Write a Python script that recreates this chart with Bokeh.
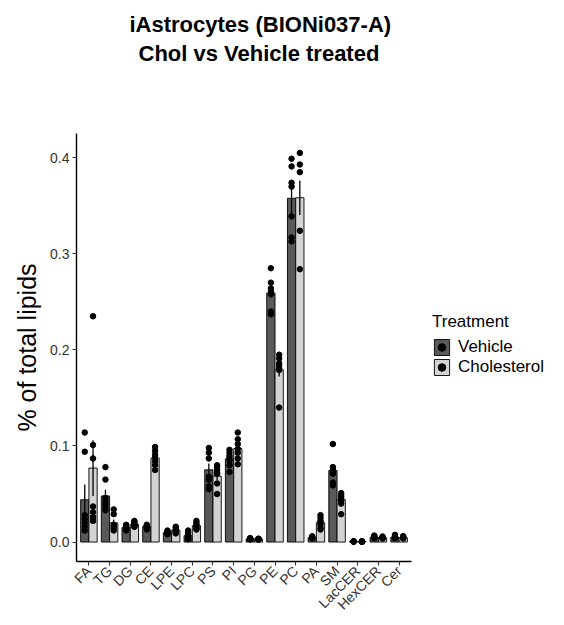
from bokeh.plotting import figure
from bokeh.models import (ColumnDataSource, Range1d, FixedTicker, Legend, LegendItem,
                          Title, NumeralTickFormatter)
from bokeh.embed import file_html
from bokeh.resources import INLINE
import math

# ---------------- data ----------------
lipids = ["FA", "TG", "DG", "CE", "LPE", "LPC", "PS", "PI", "PG", "PE", "PC",
          "PA", "SM", "LacCER", "HexCER", "Cer"]
treatments = ["Vehicle", "Cholesterol"]

vehicle_mean = [0.044, 0.048, 0.015, 0.016, 0.0098, 0.0066, 0.0752, 0.0866, 0.0033,
                0.2592, 0.3578, 0.0046, 0.0745, 0.0006, 0.0050, 0.0050]
vehicle_se = [0.016, 0.0065, 0.001, 0.0008, 0.0005, 0.0013, 0.0065, 0.003, 0.0002,
              0.0045, 0.016, 0.0004, 0.005, 0.0001, 0.0004, 0.0004]
chol_mean = [0.077, 0.020, 0.0184, 0.0874, 0.0124, 0.017, 0.0686, 0.0972, 0.0030,
             0.1794, 0.3584, 0.0202, 0.0441, 0.0006, 0.0045, 0.0045]
chol_se = [0.029, 0.0035, 0.001, 0.003, 0.001, 0.0014, 0.004, 0.0045, 0.0002,
           0.007, 0.018, 0.0023, 0.0026, 0.0001, 0.0003, 0.0004]

vehicle_points = [
    [0.114, 0.094, 0.028, 0.024, 0.020, 0.016, 0.012],
    [0.078, 0.065, 0.046, 0.042, 0.039, 0.036, 0.033],
    [0.018, 0.017, 0.016, 0.015, 0.014, 0.013, 0.012],
    [0.018, 0.017, 0.017, 0.016, 0.016, 0.015, 0.013],
    [0.012, 0.011, 0.010, 0.010, 0.009, 0.009, 0.008],
    [0.012, 0.010, 0.008, 0.006, 0.004, 0.003, 0.003],
    [0.098, 0.093, 0.087, 0.068, 0.065, 0.058, 0.055],
    [0.096, 0.093, 0.090, 0.088, 0.085, 0.080, 0.073],
    [0.004, 0.004, 0.003, 0.003, 0.003, 0.003, 0.003],
    [0.285, 0.270, 0.264, 0.261, 0.258, 0.240, 0.237],
    [0.399, 0.391, 0.374, 0.370, 0.339, 0.317, 0.313],
    [0.006, 0.005, 0.005, 0.004, 0.004, 0.004, 0.004],
    [0.102, 0.078, 0.075, 0.073, 0.071, 0.062, 0.059],
    [0.0007, 0.0006, 0.0006, 0.0006, 0.0005, 0.0005, 0.0005],
    [0.0068, 0.0060, 0.0052, 0.0050, 0.0045, 0.0042, 0.0040],
    [0.0075, 0.0060, 0.0050, 0.0048, 0.0045, 0.0042, 0.0040],
]
chol_points = [
    [0.235, 0.101, 0.087, 0.037, 0.031, 0.026, 0.022],
    [0.034, 0.029, 0.018, 0.017, 0.016, 0.014, 0.012],
    [0.022, 0.021, 0.019, 0.018, 0.017, 0.016, 0.016],
    [0.099, 0.095, 0.091, 0.088, 0.084, 0.080, 0.075],
    [0.016, 0.015, 0.013, 0.012, 0.011, 0.010, 0.009],
    [0.022, 0.020, 0.018, 0.017, 0.015, 0.014, 0.013],
    [0.080, 0.078, 0.075, 0.072, 0.071, 0.061, 0.050],
    [0.114, 0.107, 0.102, 0.097, 0.093, 0.087, 0.081],
    [0.0035, 0.0032, 0.0030, 0.0030, 0.0028, 0.0028, 0.0027],
    [0.195, 0.191, 0.186, 0.184, 0.181, 0.179, 0.140],
    [0.405, 0.393, 0.385, 0.324, 0.284],
    [0.028, 0.025, 0.022, 0.020, 0.018, 0.015, 0.013],
    [0.051, 0.049, 0.047, 0.045, 0.043, 0.040, 0.029],
    [0.0006, 0.0006, 0.0005, 0.0005, 0.0005, 0.0005, 0.0005],
    [0.0058, 0.0050, 0.0046, 0.0044, 0.0042, 0.0040, 0.0038],
    [0.0062, 0.0050, 0.0046, 0.0044, 0.0042, 0.0040, 0.0038],
]

y_ticks = [0.0, 0.1, 0.2, 0.3, 0.4]
title_line1 = "iAstrocytes (BIONi037-A)"
title_line2 = "Chol vs Vehicle treated"
y_label = "% of total lipids"
legend_title = "Treatment"

# ---------------- style ----------------
FONT = "Liberation Sans"
VEH_COLOR = "#595959"
CHOL_COLOR = "#D3D3D3"
DODGE = 0.2
BAR_W = 0.4

pos = [float(i + 1) for i in range(len(lipids))]

def make_sources(means, ses, pts, offset):
    xs = [p_ + offset for p_ in pos]
    lo = [m - s for m, s in zip(means, ses)]
    hi = [m + s for m, s in zip(means, ses)]
    bar = ColumnDataSource(dict(x=xs, top=list(means), lo=lo, hi=hi))
    px, py = [], []
    for i, plist in enumerate(pts):
        for v in plist:
            px.append(xs[i])
            py.append(v)
    point = ColumnDataSource(dict(x=px, y=py))
    return bar, point

veh_bar, veh_pts = make_sources(vehicle_mean, vehicle_se, vehicle_points, -DODGE)
chol_bar, chol_pts = make_sources(chol_mean, chol_se, chol_points, DODGE)

all_vals = [v for g in vehicle_points + chol_points for v in g]
all_vals += [m + s for m, s in zip(vehicle_mean, vehicle_se)]
all_vals += [m + s for m, s in zip(chol_mean, chol_se)]
ymax = max(all_vals)
pad = 0.05 * ymax

p = figure(frame_width=335, frame_height=428,
           x_range=Range1d(0.4, len(lipids) + 0.6),
           y_range=Range1d(-pad, ymax + pad),
           output_backend="svg", toolbar_location=None,
           min_border_left=76, min_border_right=153,
           min_border_top=133, min_border_bottom=64)
p.xgrid.visible = False
p.ygrid.visible = False
p.outline_line_color = None
p.background_fill_color = "white"
p.border_fill_color = "white"

r_vb = p.vbar(x="x", top="top", bottom=0, width=BAR_W, source=veh_bar,
              fill_color=VEH_COLOR, line_color="black", line_width=0.9)
r_cb = p.vbar(x="x", top="top", bottom=0, width=BAR_W, source=chol_bar,
              fill_color=CHOL_COLOR, line_color="black", line_width=0.9)
p.segment(x0="x", y0="lo", x1="x", y1="hi", source=veh_bar,
          line_color="black", line_width=1.3)
p.segment(x0="x", y0="lo", x1="x", y1="hi", source=chol_bar,
          line_color="black", line_width=1.3)
r_vp = p.scatter(x="x", y="y", source=veh_pts, size=5.5, marker="circle",
                 fill_color="black", line_color="black")
r_cp = p.scatter(x="x", y="y", source=chol_pts, size=5.5, marker="circle",
                 fill_color="black", line_color="black")

# axes
for ax in (p.xaxis[0], p.yaxis[0]):
    ax.axis_line_color = "black"
    ax.axis_line_width = 1.4
    ax.major_tick_line_color = "#333333"
    ax.major_tick_line_width = 1.1
    ax.major_tick_in = 0
    ax.major_tick_out = 4
    ax.minor_tick_line_color = None
    ax.major_label_text_font = FONT
    ax.major_label_text_font_size = "14px"
    ax.major_label_text_color = "#333333"

p.xaxis.ticker = FixedTicker(ticks=pos)
p.xaxis.major_label_overrides = {i + 1: name for i, name in enumerate(lipids)}
p.xaxis.major_label_orientation = math.pi / 4
p.xaxis.major_label_standoff = 3

p.yaxis.ticker = FixedTicker(ticks=y_ticks)
p.yaxis.formatter = NumeralTickFormatter(format="0.0")
p.yaxis.major_label_standoff = 3
p.yaxis.axis_label = y_label
p.yaxis.axis_label_text_font = FONT
p.yaxis.axis_label_text_font_size = "25px"
p.yaxis.axis_label_text_font_style = "normal"
p.yaxis.axis_label_text_color = "black"
p.yaxis.axis_label_standoff = 6

# titles (first added sits closest to the plot)
spacer = Title(text=" ", text_font_size="2px", standoff=63)
t2 = Title(text=title_line2, align="left", offset=62, text_font=FONT,
           text_font_size="22px", text_font_style="bold", text_color="black",
           standoff=2)
t1 = Title(text=title_line1, align="left", offset=53, text_font=FONT,
           text_font_size="22px", text_font_style="bold", text_color="black",
           standoff=2)
p.add_layout(spacer, "above")
p.add_layout(t2, "above")
p.add_layout(t1, "above")

legend = Legend(items=[LegendItem(label=treatments[0], renderers=[r_vb, r_vp]),
                       LegendItem(label=treatments[1], renderers=[r_cb, r_cp])],
                title=legend_title, location=(21, 184),
                orientation="vertical")
legend.title_text_font = FONT
legend.title_text_font_size = "17px"
legend.title_text_font_style = "normal"
legend.title_text_color = "black"
legend.title_standoff = 5
legend.label_text_font = FONT
legend.label_text_font_size = "17px"
legend.label_text_color = "black"
legend.glyph_width = 19
legend.glyph_height = 20
legend.label_height = 20
legend.label_standoff = 7
legend.spacing = 0
legend.padding = 0
legend.margin = 0
legend.border_line_color = None
legend.background_fill_alpha = 0
p.add_layout(legend, "right")

open("out.html", "w").write(file_html(p, INLINE))
